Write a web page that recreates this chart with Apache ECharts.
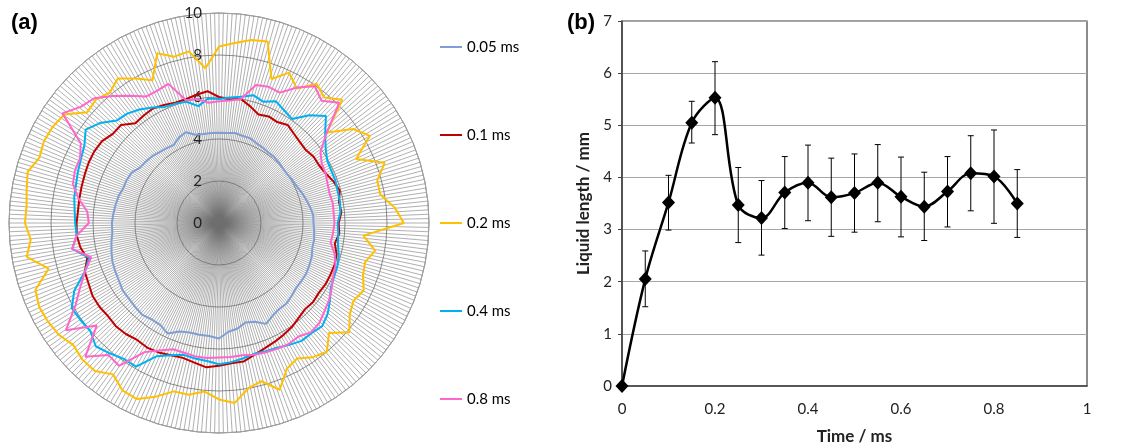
<!DOCTYPE html>
<html>
<head>
<meta charset="UTF-8">
<title>Liquid length</title>
<script src="https://cdn.jsdelivr.net/npm/echarts@6/dist/echarts.min.js"></script>
<style>
  html, body { margin: 0; padding: 0; background: #fff; }
  #container { width: 1144px; height: 447px; }
</style>
</head>
<body>
<div id="container"></div>
<script>
// (a) polar outline, radius per angle (deg, clockwise from top)
var angles = [0,5,10,15,20,25,30,35,40,45,50,55,60,65,70,75,80,85,90,95,100,105,110,115,120,125,130,135,140,145,150,155,160,165,170,175,180,185,190,195,200,205,210,215,220,225,230,235,240,245,250,255,260,265,270,275,280,285,290,295,300,305,310,315,320,325,330,335,340,345,350,355];
var r005 = [4.3,4.3,4.35,4.3,4.3,4.2,4.15,4.1,4.1,4.05,
            4.0,4.0,4.05,4.1,4.2,4.3,4.4,4.5,4.5,4.55,
            4.6,4.6,4.7,4.75,4.8,4.8,4.8,4.9,5.0,5.0,
            5.1,5.3,5.0,4.9,5.1,5.2,5.5,5.4,5.4,5.4,
            5.5,5.8,5.6,5.6,5.7,5.65,5.6,5.6,5.5,5.45,
            5.4,5.3,5.2,5.1,5.1,5.05,5.0,4.95,4.85,4.85,
            4.8,4.6,4.55,4.5,4.4,4.35,4.3,4.5,4.6,4.35,
            4.3,4.3];
var r01 = [6.0,5.9,6.0,5.75,5.5,5.6,5.55,5.7,5.55,5.45,
           5.4,5.5,5.5,5.6,5.8,5.95,5.8,5.85,5.7,5.75,
           5.6,5.8,5.85,5.85,5.85,5.8,5.85,5.8,5.9,6.05,
           6.15,6.25,6.35,6.5,6.7,6.7,6.8,6.9,6.75,6.65,
           6.7,6.8,6.85,6.8,6.9,6.95,6.9,6.95,6.95,6.85,
           6.8,6.5,6.7,6.8,6.78,6.74,6.75,6.77,6.8,6.84,
           6.85,6.8,6.6,6.6,6.2,6.25,6.3,6.2,6.1,6.1,
           6.2,6.3];
var r02 = [8.4,8.6,8.85,8.95,7.3,7.9,7.4,8.1,7.8,8.3,
           6.7,7.8,8.3,7.2,8.4,7.8,7.8,8.4,8.8,6.9,
           7.55,7.2,7.3,7.6,7.4,7.6,8.1,7.4,8.0,7.8,
           7.45,7.65,8.45,7.8,8.0,8.6,8.4,8.05,8.3,8.3,
           8.8,9.25,9.2,8.8,9.2,9.2,9.05,9.3,9.4,9.45,
           9.3,8.4,9.3,9.0,9.24,9.2,9.3,9.43,9.1,9.2,
           9.15,9.0,8.2,8.3,8.1,8.4,7.95,7.5,8.6,8.2,
           8.3,7.4];
var r04 = [5.9,6.0,6.1,6.3,6.15,6.4,6.2,6.05,6.7,7.2,
           6.6,6.2,5.95,5.9,5.9,5.85,5.85,5.8,5.65,5.7,
           5.75,5.9,6.0,6.05,6.15,6.45,6.75,6.95,6.85,6.85,
           6.7,6.55,6.5,6.45,6.55,6.65,6.73,6.6,6.55,6.5,
           6.7,7.0,7.9,7.9,8.1,8.3,8.0,8.05,8.1,7.6,
           6.8,6.4,7.1,6.8,6.85,6.9,7.0,7.05,7.15,7.25,
           7.4,7.75,7.4,6.9,6.8,6.6,6.35,6.1,6.05,5.98,
           5.65,5.95];
var r08 = [5.8,5.85,6.0,6.8,6.9,6.85,7.45,7.95,7.6,8.1,
           6.7,5.9,5.65,5.6,5.5,5.45,5.5,5.48,5.5,5.45,
           5.4,5.7,5.9,6.0,6.2,6.4,6.55,6.75,6.8,6.6,
           6.65,6.6,6.55,6.5,6.4,6.4,6.4,6.45,6.45,6.4,
           6.4,6.7,7.1,8.3,8.2,9.0,7.6,8.9,7.9,7.3,
           6.8,6.3,7.1,6.8,6.2,6.3,6.8,7.2,7.3,7.3,
           7.6,9.1,8.6,8.4,7.9,7.4,6.95,6.95,7.05,6.05,
           6.0,5.75];
var seriesNames = ['0.05 ms', '0.1 ms', '0.2 ms', '0.4 ms', '0.8 ms'];
var seriesColors = ['#7F9ED4', '#C00000', '#FFC000', '#00B0F0', '#FF66CC'];

// (b) liquid length vs time
var times = [0,0.05,0.1,0.15,0.2,0.25,0.3,0.35,0.4,0.45,0.5,0.55,0.6,0.65,0.7,0.75,0.8,0.85];
var lengths = [0,2.05,3.52,5.05,5.53,3.47,3.22,3.71,3.90,3.62,3.70,3.90,3.63,3.44,3.73,4.08,4.02,3.50];
var errLow = [0,1.52,2.99,4.66,4.82,2.75,2.51,3.02,3.17,2.87,2.95,3.15,2.86,2.79,3.05,3.36,3.12,2.85];
var errHigh = [0,2.59,4.04,5.46,6.22,4.19,3.94,4.40,4.62,4.37,4.45,4.63,4.39,4.10,4.40,4.80,4.91,4.15];

var chart = echarts.init(document.getElementById('container'));
var font = 'Lato, "Open Sans", sans-serif';

function loop(vals) {
    var d = angles.map(function (a, i) { return [vals[i], a]; });
    d.push([vals[0], 360]);
    return d;
}

var series = [];
[r005, r01, r02, r04, r08].forEach(function (vals, i) {
    series.push({
        name: seriesNames[i],
        type: 'line',
        coordinateSystem: 'polar',
        data: loop(vals),
        symbol: 'none',
        lineStyle: { width: 2, color: seriesColors[i] },
        itemStyle: { color: seriesColors[i] },
        z: 3 + i
    });
});

// error bars for (b)
series.push({
    name: 'error',
    type: 'custom',
    xAxisIndex: 0,
    yAxisIndex: 0,
    data: times.map(function (t, i) { return [t, errLow[i], errHigh[i]]; }),
    encode: { x: 0, y: [1, 2] },
    renderItem: function (params, api) {
        var lo = api.value(1), hi = api.value(2);
        if (lo === hi) return;
        var p1 = api.coord([api.value(0), lo]);
        var p2 = api.coord([api.value(0), hi]);
        var w = 3;
        var st = { stroke: '#000', lineWidth: 1 };
        return {
            type: 'group',
            children: [
                { type: 'line', shape: { x1: p1[0], y1: p1[1], x2: p2[0], y2: p2[1] }, style: st },
                { type: 'line', shape: { x1: p1[0] - w, y1: p1[1], x2: p1[0] + w, y2: p1[1] }, style: st },
                { type: 'line', shape: { x1: p2[0] - w, y1: p2[1], x2: p2[0] + w, y2: p2[1] }, style: st }
            ]
        };
    },
    z: 3
});

series.push({
    name: 'Liquid length',
    type: 'line',
    xAxisIndex: 0,
    yAxisIndex: 0,
    data: times.map(function (t, i) { return [t, lengths[i]]; }),
    smooth: 0.35,
    symbol: 'diamond',
    symbolSize: [13, 14],
    lineStyle: { width: 2.5, color: '#000' },
    itemStyle: { color: '#000' },
    z: 4
});

var option = {
    animation: false,
    backgroundColor: '#fff',
    title: [
        { text: '(a)', left: 11, top: 12, padding: 0,
          textStyle: { fontFamily: 'Liberation Sans', fontSize: 22, fontWeight: 'bold', color: '#000' } },
        { text: '(b)', left: 567, top: 12, padding: 0,
          textStyle: { fontFamily: 'Liberation Sans', fontSize: 22, fontWeight: 'bold', color: '#000' } }
    ],
    legend: {
        data: seriesNames,
        orient: 'vertical',
        left: 435,
        top: 34,
        itemGap: 72,
        itemWidth: 22,
        itemHeight: 2,
        icon: 'rect',
        textStyle: { fontFamily: font, fontSize: 15, color: '#000', lineHeight: 16 },
        selectedMode: false
    },
    polar: { center: [219, 223], radius: 210 },
    angleAxis: {
        type: 'value',
        min: 0,
        max: 360,
        interval: 1.2,
        startAngle: 90,
        clockwise: true,
        axisLine: { show: true, lineStyle: { color: '#A0A0A0', width: 1 } },
        axisTick: { show: false },
        axisLabel: { show: false },
        splitLine: { show: true, lineStyle: { color: '#6E6E6E', width: 0.55 } }
    },
    radiusAxis: {
        type: 'value',
        min: 0,
        max: 10,
        interval: 2,
        axisLine: { show: false },
        axisTick: { show: false },
        axisLabel: { show: true, fontFamily: font, fontSize: 15, color: '#222', margin: 17 },
        splitLine: { show: true, lineStyle: { color: '#8C8C8C', width: 1 } }
    },
    grid: {
        left: 622, top: 21, width: 465, height: 365,
        outerBoundsMode: 'none',
        show: true, borderColor: '#404040', borderWidth: 1.2
    },
    xAxis: {
        type: 'value',
        min: 0, max: 1, interval: 0.2,
        name: 'Time / ms',
        nameLocation: 'middle',
        nameGap: 42,
        nameTextStyle: { fontFamily: font, fontSize: 17, fontWeight: 'bold', color: '#222' },
        axisLine: { show: true, lineStyle: { color: '#404040', width: 1.5 } },
        axisTick: { show: false },
        axisLabel: { fontFamily: font, fontSize: 15, color: '#222', margin: 16 },
        splitLine: { show: false }
    },
    yAxis: {
        type: 'value',
        min: 0, max: 7, interval: 1,
        name: 'Liquid length / mm',
        nameLocation: 'middle',
        nameGap: 30,
        nameTextStyle: { fontFamily: font, fontSize: 17, fontWeight: 'bold', color: '#222' },
        axisLine: { show: true, lineStyle: { color: '#404040', width: 1.5 } },
        axisTick: { show: true, length: 4, lineStyle: { color: '#404040' } },
        axisLabel: { fontFamily: font, fontSize: 15, color: '#222', margin: 10 },
        splitLine: { show: true, lineStyle: { color: '#A6A6A6', width: 1 } }
    },
    series: series
};
chart.setOption(option);
</script>
</body>
</html>
